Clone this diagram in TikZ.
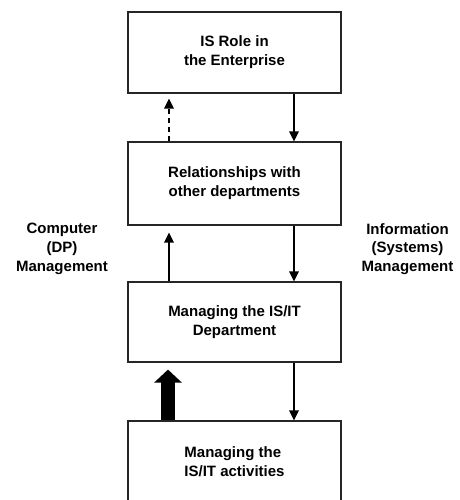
\documentclass[tikz,border=0pt]{standalone}
\usepackage{fontspec}
\setmainfont{Liberation Sans}
\usetikzlibrary{arrows.meta,calc}
\begin{document}
\begin{tikzpicture}[x=1pt,y=-1pt,
  every node/.style={font=\bfseries\fontsize{15}{18.8}\selectfont},
  stage/.style={draw=black!85,line width=1.2pt,minimum width=213pt,inner sep=0pt,align=center},
  flow/.style={line width=1.4pt,-{Triangle[width=9.5pt,length=10pt]}},
  side/.style={align=center}]
  \useasboundingbox (0,0) rectangle (459,500);

  % the four levels
  \node[stage,minimum height=81pt] (b1) at (234.5,52.5) {IS Role in\\the Enterprise};
  \node[stage,minimum height=83pt] (b2) at (234.5,183.5) {Relationships with\\other departments};
  \node[stage,minimum height=80pt] (b3) at (234.5,322) {Managing the IS/IT\\Department};
  \node[stage,minimum height=82pt,align=left] (b4) at (234.5,462) {Managing the\\IS/IT activities};

  % side labels
  \node[side] (cm) at (62,249) {Computer\\(DP)\\Management};
  \node[side] (im) at (407.5,249) {Information\\(Systems)\\Management};

  % columns of the connectors
  \coordinate (rx) at (294,0);
  \coordinate (lx) at (169,0);
  \coordinate (tx) at (168,0);

  % downward flow
  \draw[flow] (b1.south -| rx) -- (b2.north -| rx);
  \draw[flow] (b2.south -| rx) -- (b3.north -| rx);
  \draw[flow] (b3.south -| rx) -- (b4.north -| rx);

  % upward flow
  \draw[flow,dash pattern=on 5pt off 4pt] (b2.north -| lx) -- ($(b1.south -| lx)+(0,5)$);
  \draw[flow] (b3.north -| lx) -- ($(b2.south -| lx)+(0,7)$);
  \draw[line width=14pt,-{Triangle[width=27pt,length=13pt]}]
    (b4.north -| tx) -- ($(b3.south -| tx)+(0,7)$);
\end{tikzpicture}
\end{document}
